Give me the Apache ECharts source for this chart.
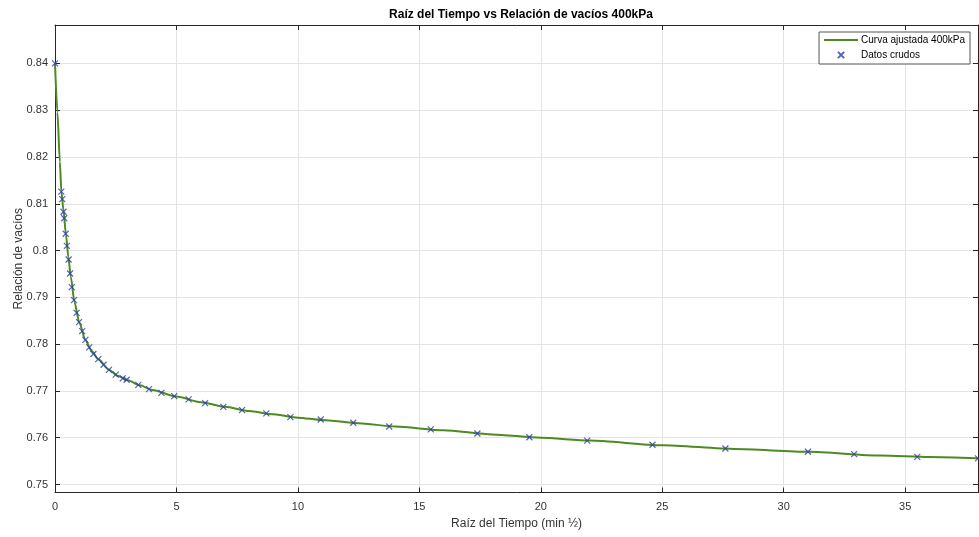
<!DOCTYPE html>
<html><head><meta charset="utf-8">
<script src="https://cdn.jsdelivr.net/npm/echarts@6/dist/echarts.min.js"></script>
<style>html,body{margin:0;padding:0;background:#fff}#c{width:979px;height:537px}</style>
</head><body><div id="c"></div>
<script>
// Raw data (x = sqrt time, y = void ratio)
const rawX = [0, 0.26, 0.30, 0.35, 0.38, 0.44, 0.49, 0.56, 0.62, 0.69, 0.78, 0.89, 0.99, 1.12, 1.25, 1.41, 1.58, 1.78, 2.00, 2.22, 2.50, 2.79, 2.95, 3.43, 3.87, 4.38, 4.91, 5.50, 6.18, 6.93, 7.70, 8.70, 9.69, 10.94, 12.28, 13.76, 15.47, 17.39, 19.53, 21.91, 24.60, 27.60, 31.00, 32.90, 35.50, 38.00];
const rawY = [0.8400, 0.8126, 0.8110, 0.8083, 0.8069, 0.8036, 0.8010, 0.7981, 0.7951, 0.7922, 0.7894, 0.7867, 0.7847, 0.7828, 0.7809, 0.7793, 0.7779, 0.7768, 0.7756, 0.7745, 0.7735, 0.7727, 0.7724, 0.7713, 0.7704, 0.7696, 0.7689, 0.7682, 0.7674, 0.7666, 0.7659, 0.7652, 0.7644, 0.7639, 0.7632, 0.7624, 0.7618, 0.7609, 0.7601, 0.7594, 0.7585, 0.7577, 0.7570, 0.7565, 0.7559, 0.7556];
// Fitted curve
const fitX = [0, 0.1, 0.2, 0.26, 0.35, 0.45, 0.55, 0.65, 0.8, 1.0, 1.25, 1.5, 1.8, 2.2, 2.6, 3.0, 3.5, 4.0, 5.0, 6.0, 7.0, 8.0, 9.0, 10, 11, 12.5, 14, 16, 18, 20, 22, 25, 28, 31, 34, 36, 38];
const fitY = [0.8400, 0.8295, 0.8190, 0.8127, 0.8086, 0.8034, 0.7986, 0.7944, 0.7890, 0.7846, 0.7809, 0.7786, 0.7767, 0.7746, 0.7732, 0.7723, 0.7712, 0.7702, 0.7688, 0.7676, 0.7666, 0.7657, 0.7650, 0.7643, 0.7638, 0.7631, 0.7624, 0.7616, 0.7607, 0.7600, 0.7594, 0.7584, 0.7576, 0.7570, 0.7562, 0.7559, 0.7556];
const xTicks = [0, 5, 10, 15, 20, 25, 30, 35];
const yTicks = [0.75, 0.76, 0.77, 0.78, 0.79, 0.80, 0.81, 0.82, 0.83, 0.84];

const FONT = '"Liberation Sans", Arial, Helvetica, sans-serif';
const AX = '#262626';
const xMin = 0, xMax = 38, yMin = 0.7483, yMax = 0.8482;

const chart = echarts.init(document.getElementById('c'), null, {renderer: 'canvas'});
const isTick = (v, arr) => arr.some(t => Math.abs(t - v) < 1e-6);
const tickCommon = {show: true, inside: true, length: 5, lineStyle: {color: AX, width: 1}};
const XMARK = 'path://M0,0L10,10M10,0L0,10';
const XMARK_LEGEND = 'path://M-3,-3L-3,-2.99M0,0L10,10M10,0L0,10M13,13L13,12.99';
const LINE_LEGEND = 'path://M0,0H34V1.8H0Z';

chart.setOption({
  backgroundColor: '#fff',
  animation: false,
  title: {
    text: 'Raíz del Tiempo vs Relación de vacíos 400kPa',
    left: 516, top: 4, textAlign: 'center',
    textStyle: {fontFamily: FONT, fontSize: 12, fontWeight: 'bold', color: '#000'}
  },
  legend: {
    right: 9, top: 32, orient: 'vertical',
    backgroundColor: '#fff', borderColor: '#555', borderWidth: 1,
    padding: [3, 5, 3, 5], itemGap: 4, itemWidth: 34, itemHeight: 10,
    textStyle: {fontFamily: FONT, fontSize: 10, color: '#000', padding: [0, 0, 0, -2]},
    data: [
      {name: 'Curva ajustada 400kPa', icon: LINE_LEGEND, itemStyle: {color: '#4e8a22'}},
      {name: 'Datos crudos', icon: XMARK_LEGEND}
    ]
  },
  grid: {left: 55, right: 1, top: 25, bottom: 44.5, containLabel: false, outerBoundsMode: 'none'},
  xAxis: [{
    type: 'value', min: xMin, max: xMax, interval: 5, position: 'bottom',
    name: 'Raíz del Tiempo (min ½)', nameLocation: 'middle', nameGap: 25, nameMoveOverlap: false,
    nameTextStyle: {fontFamily: FONT, fontSize: 12, color: '#333'},
    axisLine: {show: true, onZero: false, lineStyle: {color: AX, width: 1}},
    axisTick: tickCommon,
    axisLabel: {fontFamily: FONT, fontSize: 11, color: '#333', margin: 9,
      formatter: v => isTick(v, xTicks) ? String(v) : ''},
    splitLine: {show: true, lineStyle: {color: '#e4e4e4', width: 1}}
  }, {
    type: 'value', min: xMin, max: xMax, interval: 5, position: 'top',
    axisLine: {show: true, onZero: false, lineStyle: {color: AX, width: 1}},
    axisTick: tickCommon, axisLabel: {show: false}, splitLine: {show: false}
  }],
  yAxis: [{
    type: 'value', min: yMin, max: yMax, splitNumber: 10, position: 'left',
    name: 'Relación de vacíos', nameLocation: 'middle', nameGap: 30, nameMoveOverlap: false,
    nameTextStyle: {fontFamily: FONT, fontSize: 12, color: '#333'},
    axisLine: {show: true, onZero: false, lineStyle: {color: AX, width: 1}},
    axisTick: tickCommon,
    axisLabel: {fontFamily: FONT, fontSize: 11, color: '#333', margin: 7,
      formatter: v => isTick(v, yTicks) ? String(+v.toFixed(2)) : ''},
    splitLine: {show: true, lineStyle: {color: '#e4e4e4', width: 1}}
  }, {
    type: 'value', min: yMin, max: yMax, splitNumber: 10, position: 'right',
    axisLine: {show: true, onZero: false, lineStyle: {color: AX, width: 1}},
    axisTick: tickCommon, axisLabel: {show: false}, splitLine: {show: false}
  }],
  series: [{
    name: 'Curva ajustada 400kPa', type: 'line',
    data: fitX.map((x, i) => [x, fitY[i]]),
    smooth: 0.25, smoothMonotone: 'x', symbol: 'none', showSymbol: false,
    lineStyle: {color: '#4e8a22', width: 2}, itemStyle: {color: '#4e8a22'},
    z: 2
  }, {
    name: 'Datos crudos', type: 'scatter',
    data: rawX.map((x, i) => [x, rawY[i]]),
    symbol: XMARK, symbolSize: 6,
    itemStyle: {color: 'rgba(0,0,0,0)', borderColor: '#2b3cb0', borderWidth: 1.2},
    z: 3
  }]
});
</script>
</body></html>
